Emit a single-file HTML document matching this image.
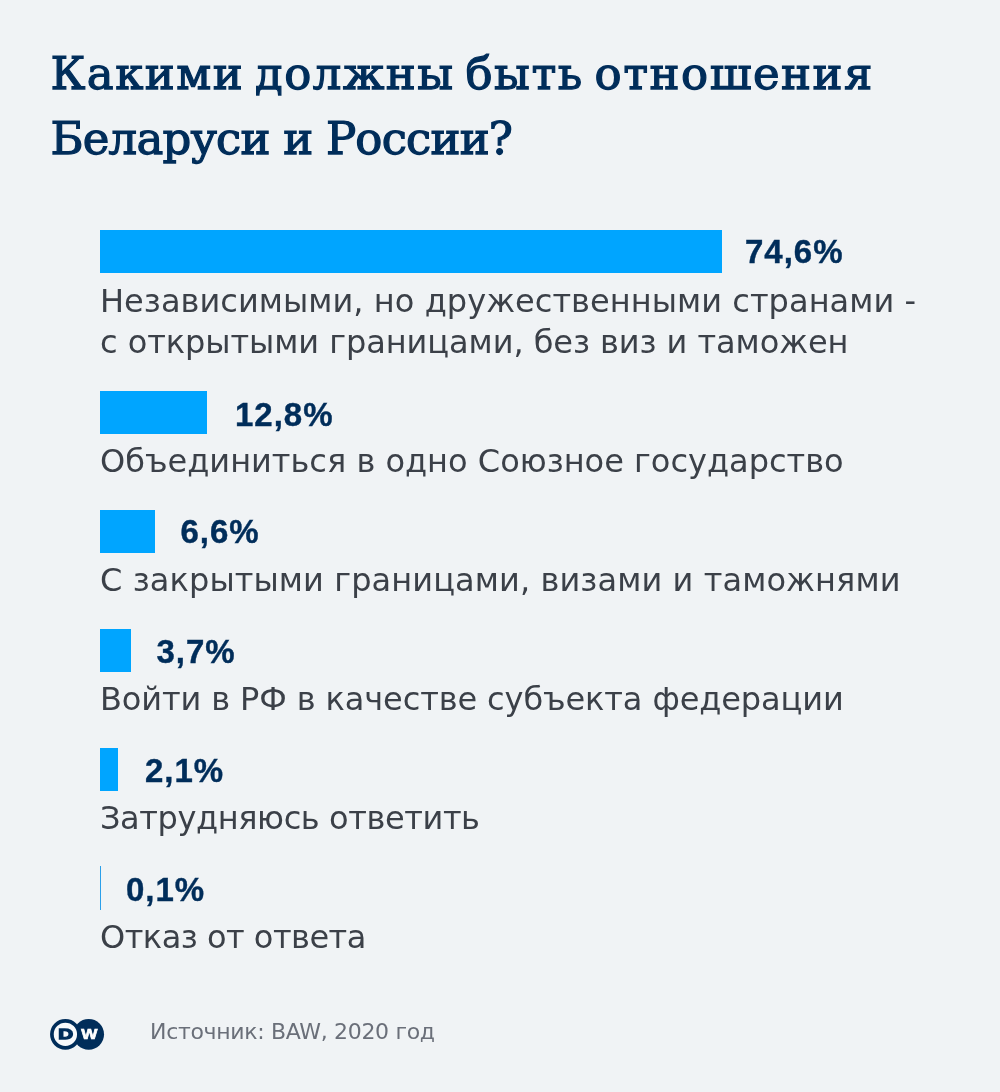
<!DOCTYPE html>
<html lang="ru">
<head>
<meta charset="utf-8">
<title>Какими должны быть отношения Беларуси и России?</title>
<style>
html,body{margin:0;padding:0;}
body{width:1000px;height:1092px;background:#f0f3f5;position:relative;overflow:hidden;
  font-family:"DejaVu Sans","Liberation Sans",sans-serif;}
.page{position:absolute;left:0;top:0;width:1000px;height:1092px;background:#f0f3f5;}
h1.title{position:absolute;left:50.5px;top:41px;margin:0;font-family:"DejaVu Serif","Liberation Serif",serif;
  font-weight:400;font-size:45px;line-height:65px;color:#002d5a;letter-spacing:0.9px;white-space:nowrap;
  -webkit-text-stroke:1.25px #002d5a;}
h1.title span{display:block;}
.row{position:absolute;left:100px;width:880px;}
.bar{position:absolute;left:0;top:0;height:43px;background:#00a5ff;}
.val{position:absolute;top:-0.5px;height:43px;line-height:43px;font-family:"Liberation Sans","DejaVu Sans",sans-serif;
  font-weight:700;font-size:33px;color:#002d5a;letter-spacing:1px;white-space:nowrap;-webkit-text-stroke:0.4px #002d5a;}
.lbl{position:absolute;left:0;top:50px;font-size:32px;line-height:41px;color:#3b4048;white-space:nowrap;}
.lbl span{display:block;}
.footer{position:absolute;left:0;top:1000px;width:1000px;height:70px;}
.src{position:absolute;left:150px;top:17px;letter-spacing:-0.32px;font-size:22px;line-height:30px;color:#6a6f79;white-space:nowrap;}
.logo{position:absolute;left:48px;top:17px;}
</style>
</head>
<body>
<div class="page">
  <h1 class="title"><span id="t1" style="letter-spacing:1.5px;word-spacing:-5px">Какими должны быть отношения</span><span id="t2" style="letter-spacing:-0.8px">Беларуси и России?</span></h1>

  <div class="row" style="top:230px">
    <div class="bar" style="width:622px"></div>
    <div class="val" id="v1" style="left:645px">74,6%</div>
    <div class="lbl" style="top:51px"><span id="l1a" style="letter-spacing:0.05px">Независимыми, но дружественными странами -</span><span id="l1b" style="letter-spacing:-0.06px">с открытыми границами, без виз и таможен</span></div>
  </div>
  <div class="row" style="top:391px">
    <div class="bar" style="width:107px"></div>
    <div class="val" id="v2" style="left:135px;top:1.5px">12,8%</div>
    <div class="lbl"><span id="l2" style="letter-spacing:0px">Объединиться в одно Союзное государство</span></div>
  </div>
  <div class="row" style="top:510px">
    <div class="bar" style="width:55px"></div>
    <div class="val" id="v3" style="left:80.5px;top:0.2px">6,6%</div>
    <div class="lbl"><span id="l3" style="letter-spacing:0.1px">С закрытыми границами, визами и таможнями</span></div>
  </div>
  <div class="row" style="top:629px">
    <div class="bar" style="width:31px"></div>
    <div class="val" id="v4" style="left:56.5px;top:0.5px">3,7%</div>
    <div class="lbl"><span id="l4" style="letter-spacing:-0.11px">Войти в РФ в качестве субъекта федерации</span></div>
  </div>
  <div class="row" style="top:748px">
    <div class="bar" style="width:18px"></div>
    <div class="val" id="v5" style="left:45px;top:0.9px">2,1%</div>
    <div class="lbl"><span id="l5" style="letter-spacing:-0.4px">Затрудняюсь ответить</span></div>
  </div>
  <div class="row" style="top:867px">
    <div class="bar" style="width:1px;top:-1px;height:44px;background:#2a9fea"></div>
    <div class="val" id="v6" style="left:26px;top:0.9px">0,1%</div>
    <div class="lbl"><span id="l6" style="letter-spacing:-0.5px">Отказ от ответа</span></div>
  </div>

  <div class="footer">
    <svg class="logo" width="60" height="36" viewBox="0 0 60 36">
      <circle cx="40.7" cy="17.3" r="15.35" fill="#002d5a"/>
      <circle cx="17.4" cy="17.3" r="13.5" fill="#f8fafc" stroke="#002d5a" stroke-width="3.7"/>
      <text transform="translate(17.8 21.95) scale(1.34 1)" text-anchor="middle" font-family="Liberation Sans, DejaVu Sans, sans-serif" font-weight="700" font-size="15.4" fill="#002d5a" stroke="#002d5a" stroke-width="1.3" stroke-linejoin="miter">D</text>
      <text transform="translate(41.3 22.3) scale(1.13 1)" text-anchor="middle" font-family="Liberation Sans, DejaVu Sans, sans-serif" font-weight="700" font-size="15.2" fill="#ffffff" stroke="#ffffff" stroke-width="0.7" stroke-linejoin="miter">W</text>
    </svg>
    <div class="src" id="src">Источник: BAW, 2020 год</div>
  </div>
</div>
</body>
</html>
